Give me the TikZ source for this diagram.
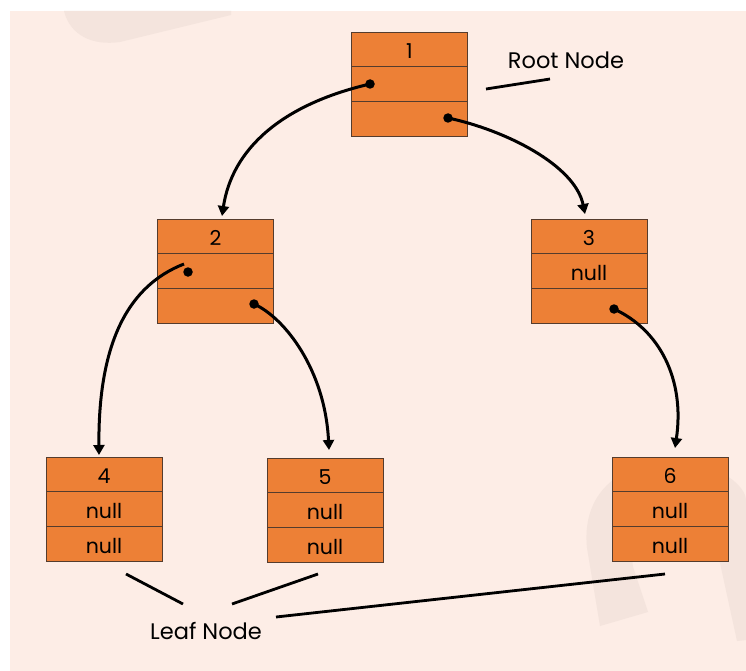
\documentclass[tikz,border=0pt]{standalone}
\usepackage{fontspec}
\setmainfont{Poppins}
\usetikzlibrary{arrows.meta}

\definecolor{bgpink}{RGB}{253,237,230}
\definecolor{markpink}{RGB}{244,228,221}
\definecolor{cellorange}{RGB}{237,128,54}
\definecolor{celledge}{RGB}{85,60,45}

\tikzset{
  cell/.style={draw=celledge, fill=cellorange, line width=0.9pt,
    minimum width=116pt, minimum height=34.7pt, inner sep=0pt, outer sep=0pt,
    text height=18.5pt, text depth=0pt, anchor=north,
    font=\fontsize{20.5}{20.5}\selectfont},
  ptr/.style={circle, fill=black, inner sep=0pt, minimum size=9.5pt},
  link/.style={line width=3pt, -{Triangle[length=10pt,width=11pt]}},
  tagline/.style={line width=2.8pt},
  tagtext/.style={font=\fontsize{22.5}{22.5}\selectfont, inner sep=0pt}
}

% three stacked cells: name, x centre, y top, three texts
\newcommand\treecell[6]{%
  \node[cell] (#1a) at (#2,#3) {#4};
  \node[cell] (#1b) at (#1a.south) {#5};
  \node[cell] (#1c) at (#1b.south) {#6};
}

\begin{document}
\begin{tikzpicture}[x=1pt,y=-1pt]
\useasboundingbox (0,0) rectangle (746,671);
\fill[white] (0,0) rectangle (746,671);
\fill[bgpink] (10,11) rectangle (746,671);

% faint background shapes
\fill[markpink] (64,11) .. controls (70,35) and (92,46) .. (120,42)
  -- (231,15) -- (231,11) -- cycle;
\fill[markpink] (600,626) -- (587,548)
  .. controls (580,480) and (640,455) .. (690,462)
  .. controls (730,470) and (746,490) .. (746,500)
  -- (746,640) -- (737,641) -- (715,540)
  .. controls (705,520) and (680,515) .. (660,525)
  .. controls (640,535) and (630,550) .. (633,567)
  -- (648,612) -- cycle;

% tree nodes
\treecell{n1}{409.5}{32}{1}{}{}
\treecell{n2}{215.5}{219}{2}{}{}
\treecell{n3}{589}{219}{3}{null}{}
\treecell{n4}{104}{457}{4}{null}{null}
\treecell{n5}{325}{458}{5}{null}{null}
\treecell{n6}{670}{457}{6}{null}{null}

% pointer dots
\node[ptr] (p1l) at (370,84) {};
\node[ptr] (p1r) at (448,118) {};
\node[ptr] (p2l) at (188,272) {};
\node[ptr] (p2r) at (254,304) {};
\node[ptr] (p3r) at (614,309) {};
\coordinate (s2l) at (184,264);

% child links
\draw[link] (p1l.center) .. controls (280,105) and (232,150) .. ([xshift=6.5pt,yshift=3pt]n2a.north);
\draw[link] (p1r.center) .. controls (505,130) and (575,165) .. ([xshift=-4pt,yshift=5pt]n3a.north);
\draw[link] (s2l) .. controls (130,285) and (98,340) .. ([xshift=-5pt,yshift=2pt]n4a.north);
\draw[link] (p2r.center) .. controls (285,318) and (325,370) .. ([xshift=4pt,yshift=8pt]n5a.north);
\draw[link] (p3r.center) .. controls (660,330) and (685,380) .. ([xshift=5pt,yshift=9pt]n6a.north);

% labels
\node[tagtext] (root) at (566,60) {Root Node};
\coordinate (r1) at (486,89);
\coordinate (r2) at (550,79);
\draw[tagline] (r1) -- (r2);

\node[tagtext] (leaf) at (206,631) {Leaf Node};
\coordinate (l1a) at (126,574);
\coordinate (l1b) at (183,604);
\coordinate (l2a) at (232,604);
\coordinate (l2b) at (318,574);
\coordinate (l3a) at (276,617);
\coordinate (l3b) at (665,574);
\draw[tagline] (l1a) -- (l1b);
\draw[tagline] (l2a) -- (l2b);
\draw[tagline] (l3a) -- (l3b);
\end{tikzpicture}
\end{document}
